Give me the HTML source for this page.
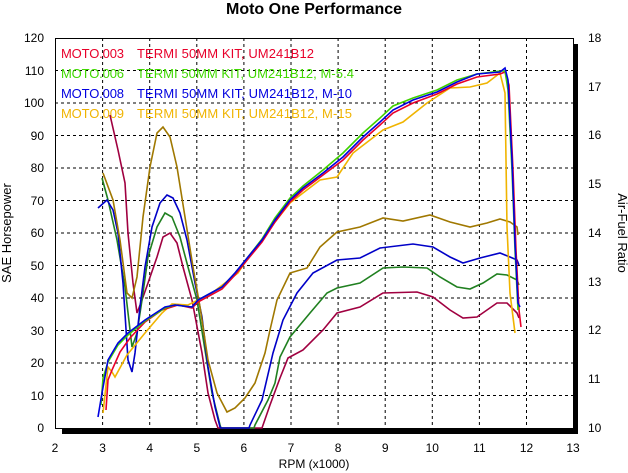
<!DOCTYPE html><html><head><style>body{margin:0;background:#fff}svg{display:block}text{font-family:"Liberation Sans",Arial,sans-serif}</style></head><body>
<svg width="628" height="473" viewBox="0 0 628 473">
<text x="314" y="14" font-size="16" font-weight="bold" text-anchor="middle">Moto One Performance</text>
<rect x="62" y="428" width="516" height="6" fill="#000"/>
<rect x="573" y="44" width="5" height="390" fill="#000"/>
<g stroke="#000" stroke-dasharray="3,3" stroke-width="1">
<path d="M102.6 38V428M149.7 38V428M196.8 38V428M243.9 38V428M291 38V428M338.1 38V428M385.2 38V428M432.3 38V428M479.4 38V428M526.5 38V428"/>
<path d="M55 395.5H573M55 363H573M55 330.5H573M55 298H573M55 265.5H573M55 233H573M55 200.5H573M55 168H573M55 135.5H573M55 103H573M55 70.5H573"/>
</g>
<rect x="55.5" y="38.5" width="518" height="390" fill="none" stroke="#000"/>
<g font-size="12" text-anchor="end">
<text x="44" y="432">0</text><text x="44" y="400">10</text><text x="44" y="367">20</text><text x="44" y="335">30</text><text x="44" y="302">40</text><text x="44" y="270">50</text><text x="44" y="237">60</text><text x="44" y="205">70</text><text x="44" y="172">80</text><text x="44" y="140">90</text><text x="44" y="107">100</text><text x="44" y="75">110</text><text x="44" y="42">120</text>
</g>
<g font-size="12">
<text x="588" y="432">10</text><text x="588" y="383">11</text><text x="588" y="334">12</text><text x="588" y="286">13</text><text x="588" y="237">14</text><text x="588" y="188">15</text><text x="588" y="139">16</text><text x="588" y="91">17</text><text x="588" y="42">18</text>
</g>
<g font-size="12" text-anchor="middle">
<text x="55" y="452">2</text><text x="102.6" y="452">3</text><text x="149.7" y="452">4</text><text x="196.8" y="452">5</text><text x="243.9" y="452">6</text><text x="291" y="452">7</text><text x="338.1" y="452">8</text><text x="385.2" y="452">9</text><text x="432.3" y="452">10</text><text x="479.4" y="452">11</text><text x="526.5" y="452">12</text><text x="573" y="452">13</text>
<text x="314" y="468">RPM (x1000)</text>
</g>
<text transform="translate(11,233) rotate(-90)" font-size="13" text-anchor="middle">SAE Horsepower</text>
<text transform="translate(618,233) rotate(90)" font-size="13" text-anchor="middle">Air-Fuel Ratio</text>
<g font-size="13">
<g fill="#e8002a"><text x="61" y="58" textLength="63">MOTO.003</text><text x="137" y="58" textLength="177">TERMI 50MM KIT, UM241B12</text></g>
<g fill="#40d800"><text x="61" y="78" textLength="63">MOTO.006</text><text x="137" y="78" textLength="217">TERMI 50MM KIT, UM241B12, M-5.4</text></g>
<g fill="#0000e0"><text x="61" y="98" textLength="63">MOTO.008</text><text x="137" y="98" textLength="215">TERMI 50MM KIT, UM241B12, M-10</text></g>
<g fill="#f0b400"><text x="61" y="118" textLength="63">MOTO.009</text><text x="137" y="118" textLength="215">TERMI 50MM KIT, UM241B12, M-15</text></g>
</g>
<g fill="none" stroke-width="1.6">
<polyline stroke="#a00040" points="110,115 118,150 125,183 128,233 133,283 137,313 142,300 148,283 157,257 163,237 170,233 177,243 183,267 192,300 202,353 208,393 215,420 218,428 262,428 270,405 280,378 288,358 303,350 323,330 337,313 360,307 383,293 417,292 433,297 450,310 463,318 477,317 497,303 507,303 517,313 519,318"/>
<polyline stroke="#208020" points="102,178 108,200 117,240 125,287 132,347 137,333 142,300 148,257 157,227 165,213 172,217 180,237 188,267 197,300 205,350 212,393 220,425 221,428 254,428 255,425 268,400 275,383 280,357 290,337 310,313 327,293 337,288 360,283 383,268 403,267 427,268 440,277 457,287 470,289 483,283 497,274 507,275 517,280 519,285"/>
<polyline stroke="#0000c8" points="98,208 107,200 113,210 118,233 123,283 128,360 132,372 135,353 140,307 145,267 152,227 160,203 167,195 173,198 180,213 187,240 195,283 202,317 208,367 215,407 220,427 221,428 249,428 250,425 262,400 273,353 283,320 297,293 313,273 337,260 360,258 380,248 413,244 433,247 450,257 463,263 480,258 500,253 510,257 517,260 519,265"/>
<polyline stroke="#a07800" points="103,173 113,200 120,240 127,293 132,298 137,277 143,217 150,167 157,133 163,127 170,137 177,167 185,217 193,267 200,307 208,360 217,393 227,412 235,408 245,398 255,383 265,353 270,330 277,300 290,273 307,268 320,247 337,232 360,227 383,218 403,221 430,215 450,222 470,227 487,223 500,219 510,222 517,227 518,235"/>
<polyline stroke="#f0b400" points="103,413 108,367 112,372 115,377 127,355 145,333 162,313 172,304 188,305 198,300 212,293 238,273 250,255 262,240 275,222 290,203 303,193 320,180 337,177 353,153 383,130 403,122 427,103 450,88 470,87 487,83 500,73 505,93 507,227 510,293 515,333"/>
<polyline stroke="#e8002a" points="106,410 108,380 112,370 120,352 130,338 145,322 162,310 178,305 192,308 198,302 222,289 235,275 248,259 262,242 275,222 290,202 303,190 323,175 343,160 363,140 380,125 393,113 413,103 437,94 457,84 477,77 500,74 505,72 509,85 513,170 516,250 519,310 521,327"/>
<polyline stroke="#40d000" points="101,405 103,378 108,362 118,345 128,335 145,321 165,308 175,305 192,307 198,300 222,287 235,273 248,257 262,239 275,218 290,198 303,186 323,170 343,153 363,133 380,118 393,106 413,98 437,90 457,80 477,74 500,71 505,71 508,90 512,170 515,250 518,310"/>
<polyline stroke="#0000e0" points="98,417 102,393 108,360 118,343 128,333 145,320 165,307 175,305 192,307 198,300 222,287 235,273 248,257 262,240 275,220 290,200 303,188 323,173 343,157 363,137 380,122 393,110 413,100 437,92 457,82 477,74 500,72 505,68 508,80 512,160 515,243 518,303 520,307"/>
</g>
</svg></body></html>
